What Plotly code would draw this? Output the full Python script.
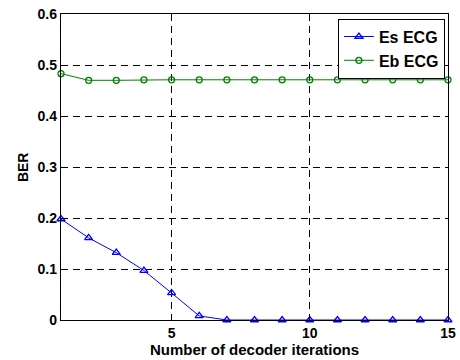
import plotly.graph_objects as go

iterations = list(range(1, 16))
es_ecg = [0.198, 0.161, 0.132, 0.097, 0.053, 0.008, 0.0, 0.0, 0.0, 0.0, 0.0, 0.0, 0.0, 0.0, 0.0]
eb_ecg = [0.483, 0.470, 0.470, 0.471, 0.471, 0.471, 0.471, 0.471, 0.471, 0.471, 0.471, 0.471, 0.471, 0.471, 0.471]
x_ticks = [5, 10, 15]
y_ticks = [0, 0.1, 0.2, 0.3, 0.4, 0.5, 0.6]

FAM = "Liberation Sans, Arial, sans-serif"

fig = go.Figure()
fig.add_trace(go.Scatter(x=iterations, y=es_ecg, name="<b>Es ECG</b>", mode="lines+markers",
                         line=dict(color="#0000ff", width=1),
                         marker=dict(symbol="triangle-up-open", size=7, color="#0000ff", line=dict(width=1.3)),
                         cliponaxis=False))
fig.add_trace(go.Scatter(x=iterations, y=eb_ecg, name="<b>Eb ECG</b>", mode="lines+markers",
                         line=dict(color="#008000", width=1),
                         marker=dict(symbol="circle-open", size=6, color="#008000", line=dict(width=1.3)),
                         cliponaxis=False))

axis_common = dict(showline=True, linecolor="black", linewidth=1.3, mirror=True,
                   ticks="inside", ticklen=4, tickcolor="black",
                   showgrid=True, gridcolor="black", gridwidth=1, griddash="7px,5px",
                   zeroline=False, automargin=False,
                   tickfont=dict(family=FAM, size=14, color="black"))

fig.update_layout(
    width=460, height=360,
    margin=dict(l=61, r=12, t=14, b=40),
    paper_bgcolor="white", plot_bgcolor="white",
    font=dict(family=FAM, size=14, color="black"),
    showlegend=True,
    legend=dict(x=0.992, y=0.985, xanchor="right", yanchor="top",
                bordercolor="black", borderwidth=1, bgcolor="white",
                font=dict(family=FAM, size=16, color="black"),
                tracegroupgap=0, itemwidth=30),
    xaxis=dict(range=[1, 15], tickvals=x_ticks, ticktext=[f"<b>{v}</b>" for v in x_ticks],
               title=dict(text="<b>Number of decoder iterations</b>", standoff=0,
                          font=dict(size=15)), **axis_common),
    yaxis=dict(range=[0, 0.6], tickvals=y_ticks, ticktext=[f"<b>{v:g}</b>" for v in y_ticks],
               **axis_common),
    annotations=[dict(text="<b>BER</b>", textangle=-90, xref="paper", yref="paper",
                      x=-0.098, y=0.5, xanchor="center", yanchor="middle", showarrow=False,
                      font=dict(family=FAM, size=14, color="black"))],
)

fig.write_html("out.html", config={"displayModeBar": False},
               post_script="document.body.style.margin='0';document.body.style.overflow='hidden';")
